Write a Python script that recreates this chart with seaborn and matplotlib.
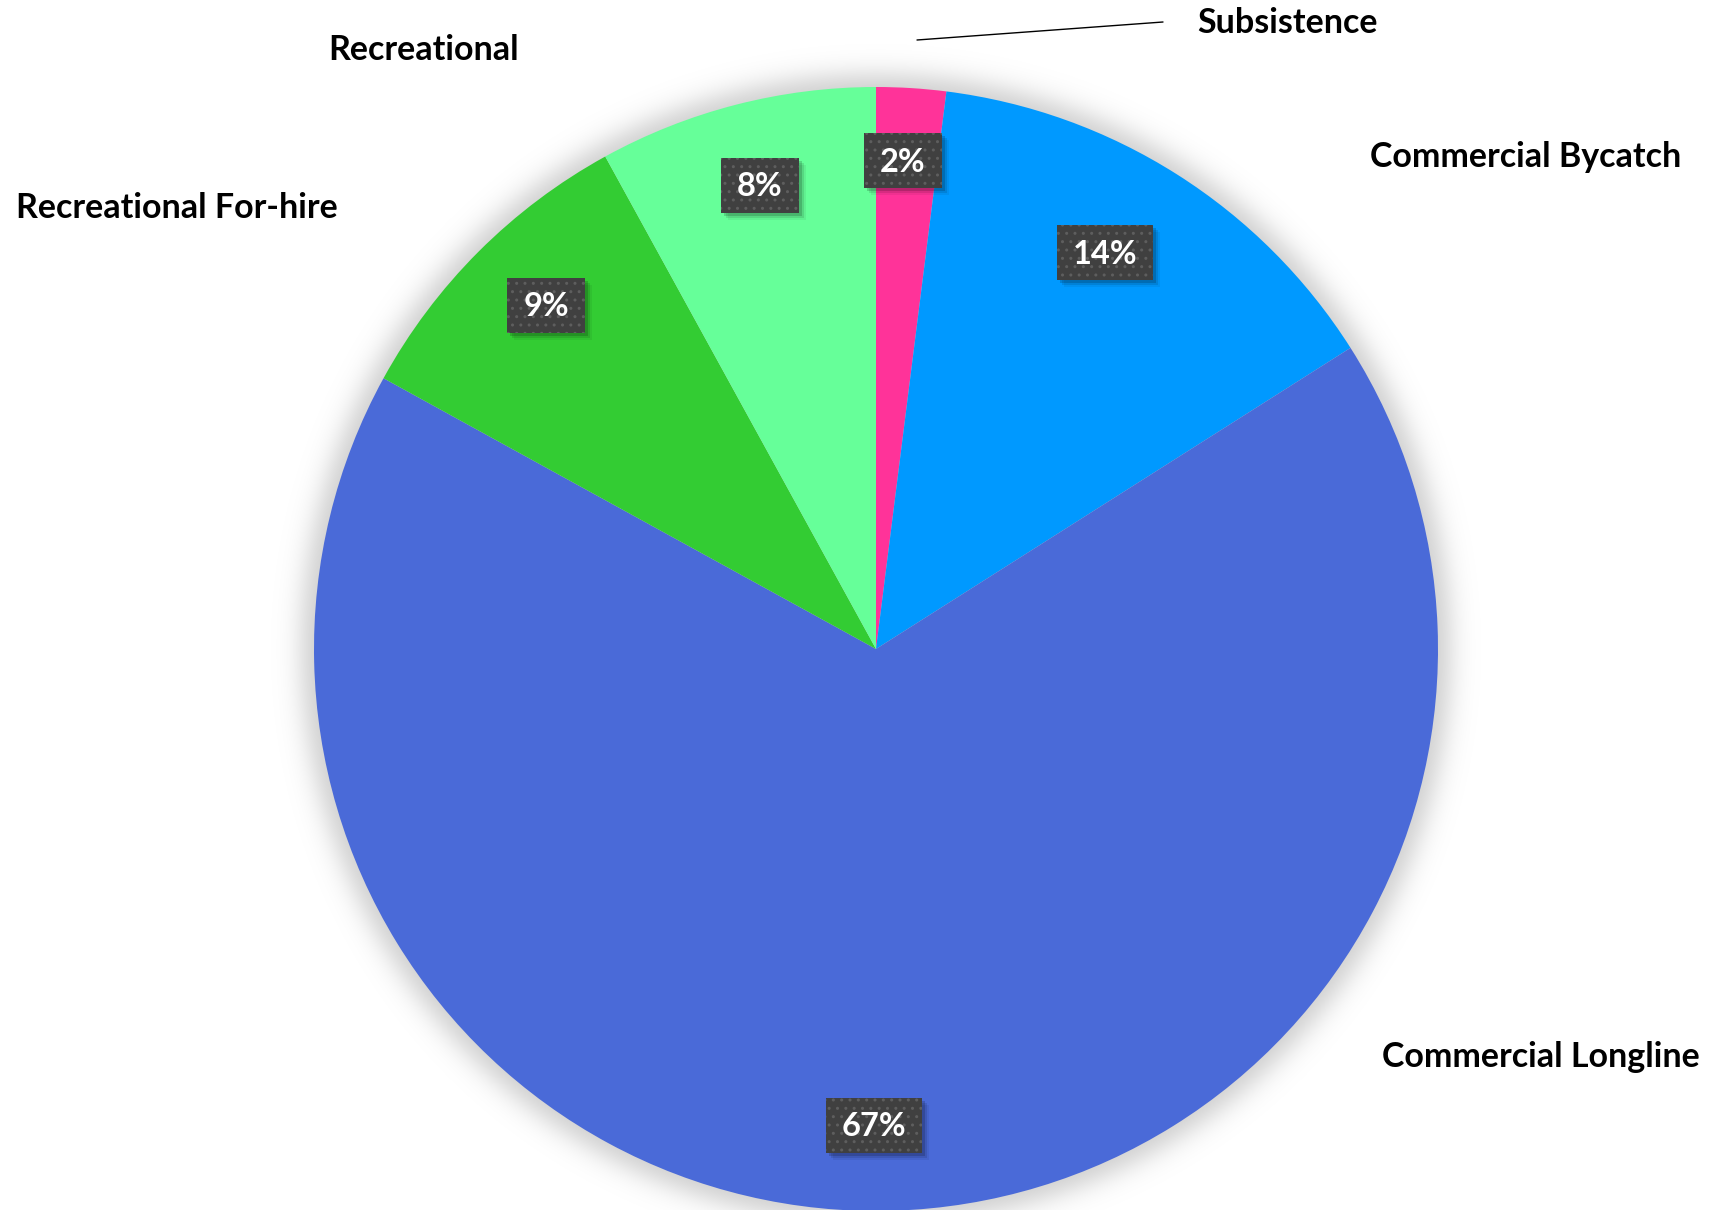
import numpy as np
import matplotlib
matplotlib.use("Agg")
import matplotlib.pyplot as plt
from matplotlib.patches import Rectangle
import seaborn as sns

# Share of catch by sector (percent), listed clockwise from 12 o'clock
categories = ["Subsistence", "Commercial Bycatch", "Commercial Longline",
              "Recreational For-hire", "Recreational"]
shares = [2, 14, 67, 9, 8]
slice_colors = ["#FF3399", "#0099FF", "#4A6AD8", "#33CC33", "#66FF99"]

# Sector name placement: left edge x, baseline y (pixels from top-left)
name_pos = {
    "Subsistence": (1197, 33),
    "Commercial Bycatch": (1370, 167),
    "Commercial Longline": (1382, 1067),
    "Recreational For-hire": (16, 218),
    "Recreational": (328, 60),
}
# Percent badge centres (pixels from top-left), same order as categories
badge_pos = [(903, 160), (1105, 252), (874, 1125), (546, 305), (760, 185)]

sns.set_theme(style="white")
plt.rcParams["font.family"] = ["Lato", "DejaVu Sans"]
plt.rcParams["hatch.linewidth"] = 1.0

W, H = 1711, 1210
fig = plt.figure(figsize=(W / 100, H / 100), dpi=100)
ax = fig.add_axes([0, 0, 1, 1])


def up(y):
    """Convert a top-origin pixel row to the axes' y coordinate."""
    return H - y


cx, cy, R = 876, up(649), 562

# soft drop shadow around the pie
yy, xx = np.mgrid[0:H, 0:W]
dist = np.hypot(xx + 0.5 - cx, yy + 0.5 - cy)
shadow = np.zeros((H, W, 4))
shadow[..., 3] = 0.2 / (1 + np.exp((dist - (R + 12)) / 8.0))
ax.imshow(shadow, extent=[0, W, 0, H], origin="lower", zorder=0.5,
          interpolation="bilinear")

wedges, _ = ax.pie(shares, colors=slice_colors, startangle=90,
                   counterclock=False, center=(cx, cy), radius=R,
                   wedgeprops=dict(linewidth=0, antialiased=True))
for w in wedges:
    w.set_zorder(1)

# sector names
for name in categories:
    x, y = name_pos[name]
    ax.text(x, up(y), name, ha="left", va="baseline", fontsize=24.5,
            fontweight="bold", color="black", zorder=5)

# leader line for the thin slice
ax.plot([917, 1163], [up(40), up(22)], color="black", lw=1.0, zorder=5)

# percent badges
texts = []
for val, (px, py) in zip(shares, badge_pos):
    bx, by = px, up(py)
    t = ax.text(bx, by - 11.5, f"{val}%", ha="center", va="baseline",
                fontsize=23.5, fontweight="bold", color="white", zorder=8)
    texts.append((t, bx, by))

fig.canvas.draw()
renderer = fig.canvas.get_renderer()
for t, bx, by in texts:
    ext = t.get_window_extent(renderer)
    bw = ext.width + 32
    bh = 55
    # blurred offset shadow under the badge
    for k, a in [(7, 0.06), (5, 0.10), (3, 0.16)]:
        ax.add_patch(Rectangle((bx - bw / 2 + k, by - bh / 2 - k), bw, bh,
                               facecolor="black", alpha=a, lw=0, zorder=6))
    ax.add_patch(Rectangle((bx - bw / 2, by - bh / 2), bw, bh,
                           facecolor="#404040", edgecolor="#5E5E5E",
                           hatch="..", lw=0, zorder=7))

ax.set_xlim(0, W)
ax.set_ylim(0, H)
ax.set_aspect("equal")
ax.axis("off")

fig.savefig("out.png", dpi=100, facecolor="white")
